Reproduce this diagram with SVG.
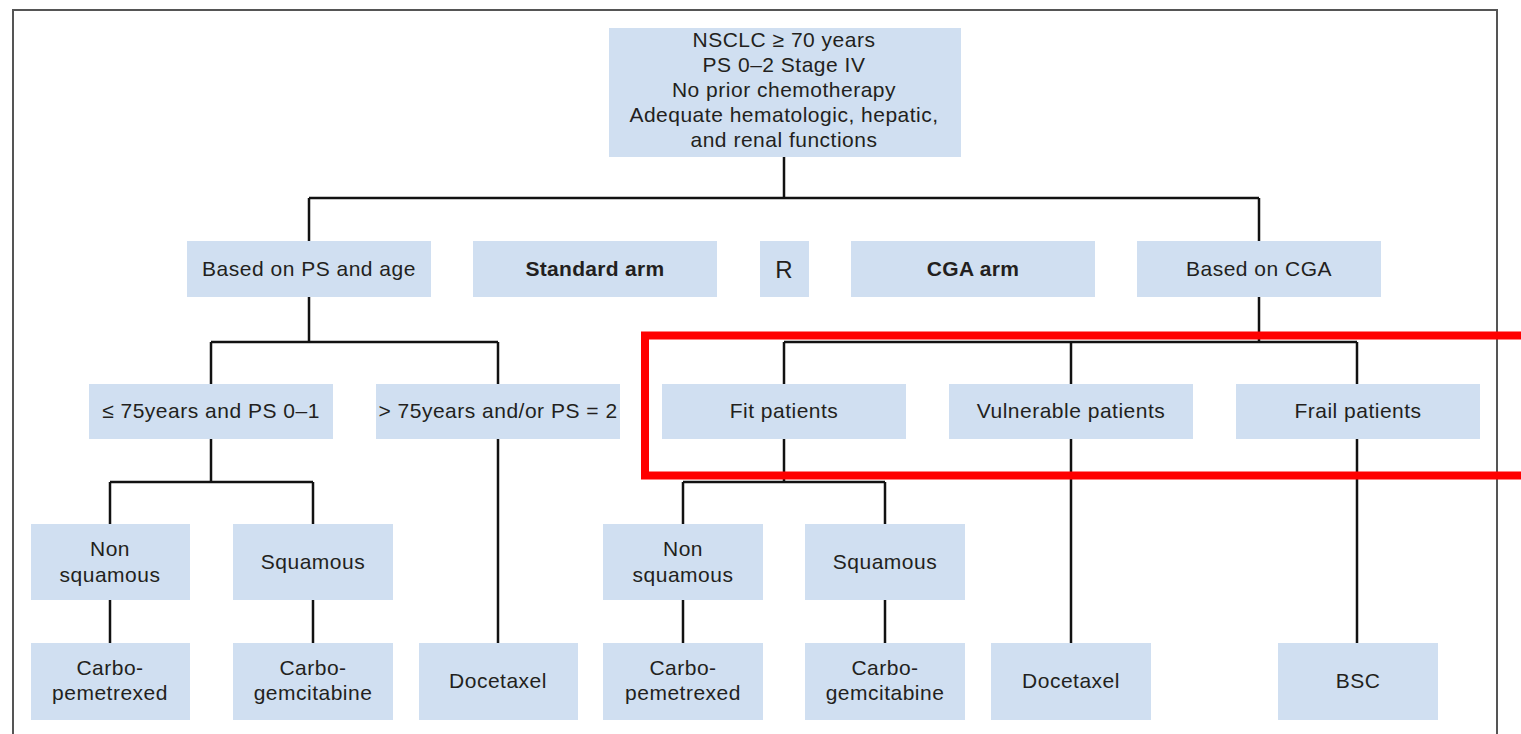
<svg xmlns="http://www.w3.org/2000/svg" width="1521" height="734" viewBox="0 0 1521 734">
<style>
.box{fill:#d0dff1;}
.t{font-family:"Liberation Sans",Arial,sans-serif;font-size:21px;letter-spacing:0.5px;fill:#231f20;text-anchor:middle;}
.b{font-weight:bold;letter-spacing:0.3px;}
.ln{fill:none;stroke:#111;stroke-width:2.5;}
</style>
<rect width="1521" height="734" fill="#fff"/>
<path d="M13,740 V10 H1497 V740" fill="none" stroke="#555" stroke-width="2"/>
<g id="connectors">
<path class="ln" d="M784,157 V198 M309,198 H1259 M309,198 V241 M1259,198 V241"/>
<path class="ln" d="M309,297 V342 M211,342 H498 M211,342 V384 M498,342 V384"/>
<path class="ln" d="M1259,297 V342 M784,342 H1357 M784,342 V384 M1071,342 V384 M1357,342 V384"/>
<path class="ln" d="M211,439 V482 M110,482 H313 M110,482 V524 M313,482 V524"/>
<path class="ln" d="M784,439 V482 M683,482 H885 M683,482 V524 M885,482 V524"/>
<path class="ln" d="M110,600 V643 M313,600 V643 M683,600 V643 M885,600 V643"/>
<path class="ln" d="M498,439 V643 M1071,439 V643 M1357,439 V643"/>
</g>
<g id="n-top"><rect class="box" x="609" y="28" width="352" height="129"/>
<text class="t" x="784" y="47">NSCLC ≥ 70 years</text>
<text class="t" x="784" y="72">PS 0–2 Stage IV</text>
<text class="t" x="784" y="97">No prior chemotherapy</text>
<text class="t" x="784" y="122">Adequate hematologic, hepatic,</text>
<text class="t" x="784" y="147">and renal functions</text></g>
<g id="n-psage"><rect class="box" x="187" y="241" width="244" height="56"/><text class="t" x="309" y="276">Based on PS and age</text></g>
<g id="n-std"><rect class="box" x="473" y="241" width="244" height="56"/><text class="t b" x="595" y="276">Standard arm</text></g>
<g id="n-r"><rect class="box" x="760" y="241" width="49" height="56"/><text class="t" x="784" y="278" style="font-size:24px;letter-spacing:0">R</text></g>
<g id="n-cga"><rect class="box" x="851" y="241" width="244" height="56"/><text class="t b" x="973" y="276">CGA arm</text></g>
<g id="n-bcga"><rect class="box" x="1137" y="241" width="244" height="56"/><text class="t" x="1259" y="276">Based on CGA</text></g>
<g id="n-le75"><rect class="box" x="89" y="384" width="244" height="55"/><text class="t" x="211" y="418">≤ 75years and PS 0–1</text></g>
<g id="n-gt75"><rect class="box" x="376" y="384" width="244" height="55"/><text class="t" x="498" y="418">&gt; 75years and/or PS = 2</text></g>
<g id="n-fit"><rect class="box" x="662" y="384" width="244" height="55"/><text class="t" x="784" y="418">Fit patients</text></g>
<g id="n-vul"><rect class="box" x="949" y="384" width="244" height="55"/><text class="t" x="1071" y="418">Vulnerable patients</text></g>
<g id="n-frail"><rect class="box" x="1236" y="384" width="244" height="55"/><text class="t" x="1358" y="418">Frail patients</text></g>
<g id="n-ns1"><rect class="box" x="31" y="524" width="159" height="76"/><text class="t" x="110" y="556">Non</text><text class="t" x="110" y="582">squamous</text></g>
<g id="n-sq1"><rect class="box" x="233" y="524" width="160" height="76"/><text class="t" x="313" y="569">Squamous</text></g>
<g id="n-ns2"><rect class="box" x="603" y="524" width="160" height="76"/><text class="t" x="683" y="556">Non</text><text class="t" x="683" y="582">squamous</text></g>
<g id="n-sq2"><rect class="box" x="805" y="524" width="160" height="76"/><text class="t" x="885" y="569">Squamous</text></g>
<g id="n-cp1"><rect class="box" x="31" y="643" width="159" height="77"/><text class="t" x="110" y="675">Carbo-</text><text class="t" x="110" y="700">pemetrexed</text></g>
<g id="n-cg1"><rect class="box" x="233" y="643" width="160" height="77"/><text class="t" x="313" y="675">Carbo-</text><text class="t" x="313" y="700">gemcitabine</text></g>
<g id="n-doc1"><rect class="box" x="419" y="643" width="159" height="77"/><text class="t" x="498" y="688">Docetaxel</text></g>
<g id="n-cp2"><rect class="box" x="603" y="643" width="160" height="77"/><text class="t" x="683" y="675">Carbo-</text><text class="t" x="683" y="700">pemetrexed</text></g>
<g id="n-cg2"><rect class="box" x="805" y="643" width="160" height="77"/><text class="t" x="885" y="675">Carbo-</text><text class="t" x="885" y="700">gemcitabine</text></g>
<g id="n-doc2"><rect class="box" x="991" y="643" width="160" height="77"/><text class="t" x="1071" y="688">Docetaxel</text></g>
<g id="n-bsc"><rect class="box" x="1278" y="643" width="160" height="77"/><text class="t" x="1358" y="688">BSC</text></g>
<rect x="645" y="335.5" width="900" height="140" fill="none" stroke="#ff0000" stroke-width="8"/>
</svg>
